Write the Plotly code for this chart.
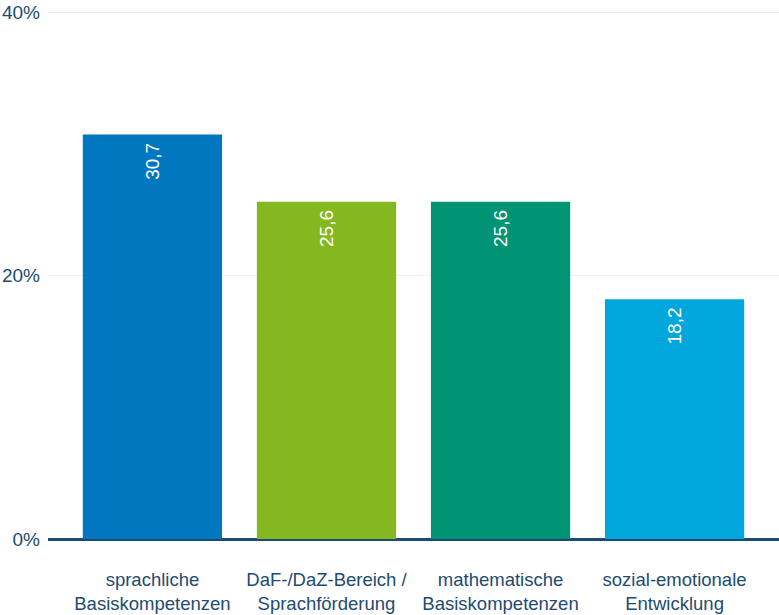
import plotly.graph_objects as go

categories = ["sprachliche<br>Basiskompetenzen", "DaF-/DaZ-Bereich /<br>Sprachförderung",
              "mathematische<br>Basiskompetenzen", "sozial-emotionale<br>Entwicklung"]
values = [30.7, 25.6, 25.6, 18.2]
value_labels = ["30,7", "25,6", "25,6", "18,2"]
colors = ["#0077BF", "#84B81F", "#009374", "#00A6DC"]
tick_vals = [0, 20, 40]
tick_text = ["0%", "20%", "40%"]

font_family = "Liberation Sans, Arial, sans-serif"
label_color = "#224B72"

fig = go.Figure()
fig.add_trace(go.Bar(
    x=list(range(len(categories))), y=values,
    marker=dict(color=colors, line=dict(width=0)),
    width=0.8,
    text=value_labels, texttemplate="%{text}\u00a0", textposition="inside", insidetextanchor="end",
    textangle=-90, textfont=dict(color="white", size=19, family=font_family),
    cliponaxis=False, hoverinfo="skip",
))

fig.add_shape(type="line", xref="paper", x0=0, x1=1, yref="y", y0=tick_vals[-1], y1=tick_vals[-1],
              line=dict(color="#C3D5E3", width=1.2), layer="below")

fig.update_layout(
    width=779, height=615,
    margin=dict(l=48, r=0, t=12, b=76),
    paper_bgcolor="white", plot_bgcolor="white",
    showlegend=False,
    font=dict(family=font_family, color=label_color, size=18),
    xaxis=dict(range=[-0.6, 3.6], tickvals=list(range(len(categories))), ticktext=categories,
               showgrid=False, zeroline=False, showline=False, ticks="", automargin=False,
               tickfont=dict(size=18.5, color=label_color), ticklabelstandoff=27),
    yaxis=dict(range=[0, 40], tickvals=tick_vals, ticktext=tick_text, automargin=False,
               showgrid=True, gridcolor="#F0F0F0", gridwidth=1,
               zeroline=True, zerolinecolor="#1B4A76", zerolinewidth=2.5,
               showline=False, ticks="", ticklabelstandoff=7,
               tickfont=dict(size=19, color=label_color)),
)

fig.write_html("out.html", config={"displayModeBar": False},
               post_script="document.body.style.margin='0';document.body.style.overflow='hidden';")
